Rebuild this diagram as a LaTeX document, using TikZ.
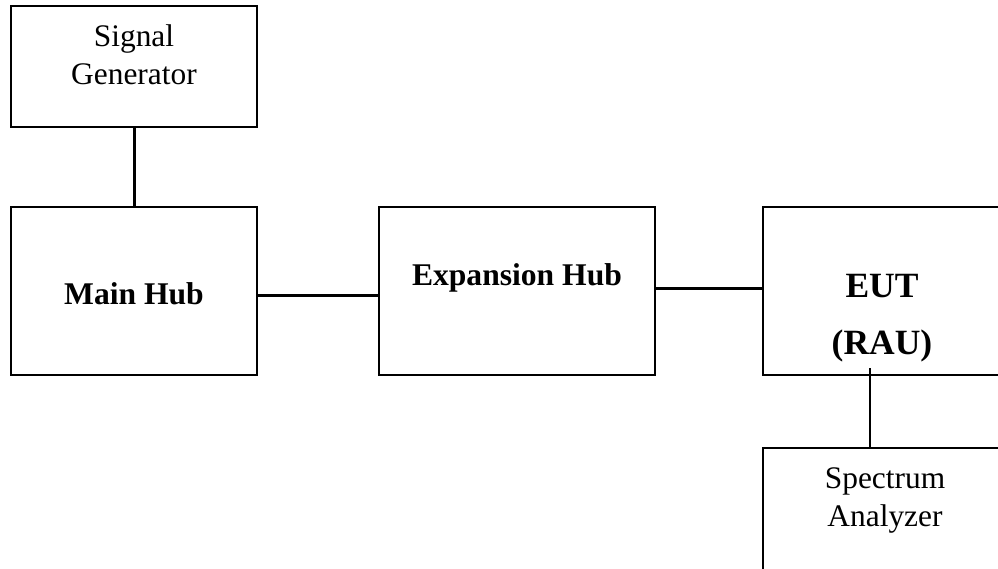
\documentclass[tikz,border=0pt]{standalone}
\usepackage{fontspec}
\setmainfont{Liberation Serif}
\usetikzlibrary{positioning}

\tikzset{
  unit/.style={draw, line width=2pt, inner sep=0pt, outer sep=0pt,
    minimum width=246pt, minimum height=168pt},
  link/.style={line width=3pt},
  probe/.style={line width=2pt},
  lbl/.style={inner sep=0pt, anchor=base, font=\fontsize{31.4}{38}\selectfont},
  title/.style={lbl, font=\fontsize{31.6}{38}\selectfont\bfseries},
}

\begin{document}
\begin{tikzpicture}[x=1pt, y=-1pt]
  \useasboundingbox (0,0) rectangle (998,569);
  % boxes
  \node[unit] (mainhub) at (134,291) {};
  \node[unit, minimum width=276pt, right=122pt of mainhub] (exphub) {};
  \node[unit, minimum width=238pt, right=108pt of exphub] (eut) {};
  \node[unit, minimum height=121pt, above=80pt of mainhub] (siggen) {};
  \node[unit, minimum width=244pt, minimum height=140pt,
    below=73pt of eut.south west, anchor=north west] (specan) {};
  % labels
  \node[lbl] (siggentxt) at ([yshift=-41pt]siggen.north)
    {\begin{tabular}[t]{c}Signal\\Generator\end{tabular}};
  \node[title] (mainhubtxt) at ([yshift=-14pt]mainhub.center) {Main Hub};
  \node[title] (exphubtxt) at ([yshift=6pt]exphub.center) {Expansion Hub};
  \node[title, font=\fontsize{35.5}{57}\selectfont\bfseries] (euttxt)
    at ([yshift=-6pt]eut.center) {\begin{tabular}[t]{c}EUT\\(RAU)\end{tabular}};
  \node[lbl] (specantxt) at ([yshift=-40pt]specan.north)
    {\begin{tabular}[t]{c}Spectrum\\Analyzer\end{tabular}};
  % connections
  \draw[link] (siggen) -- (mainhub);
  \draw[link] ([yshift=-4pt]mainhub.east) -- ([yshift=-4pt]exphub.west);
  \draw[link] ([yshift=3pt]exphub.east) -- ([yshift=3pt]eut.west);
  \coordinate (tap) at (870,368);
  \draw[probe] (tap) -- (tap |- specan.north);
\end{tikzpicture}
\end{document}
